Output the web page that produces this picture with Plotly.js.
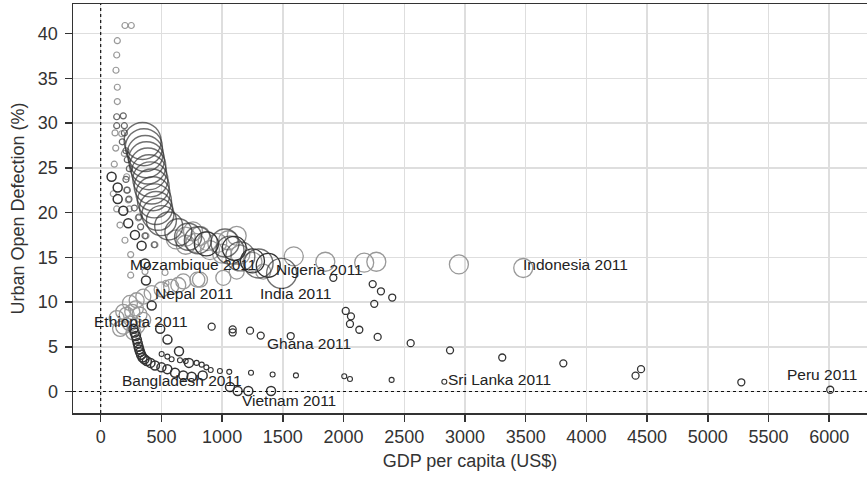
<!DOCTYPE html>
<html>
<head>
<meta charset="utf-8">
<script src="https://cdn.plot.ly/plotly-3.0.1.min.js"></script>
<style>html,body{margin:0;padding:0;background:#fff;}#chart{width:867px;height:478px;}</style>
</head>
<body>
<div id="chart"></div>
<script>
// ---- Data ----
const greySmallX = [200,252,137,132,126,137,137,118,173,124,112,195,104,132,159,200,214,247,365,530,447,373,310,538,214,228,236,247];
const greySmallY = [40.9,40.9,39.2,37.6,35.9,34.0,32.4,28.9,28.8,27.2,25.4,26.6,22.1,20.4,18.6,16.9,24.0,15.3,13.4,13.3,16.4,17.4,19.4,12.1,22.5,21.4,20.4,13.0];

const midSmallX = [132,186,132,195,195,178,208,219,236,208,219,233,277,315,329,365,441];
const midSmallY = [30.7,30.8,29.7,29.7,28.9,27.9,26.9,25.9,24.9,23.7,22.5,21.5,20.5,19.5,18.4,17.4,16.4];

const ethiopiaX = [132,160,186,214,241,260,290,320,350,300,270];
const ethiopiaY = [8.2,7.0,7.25,8.6,7.6,8.9,9.3,8.6,8.0,7.3,6.6];

const nepalX = [186,241,296,351,420,502,580,639,680,796,818,1010,1120,1339];
const nepalY = [8.9,9.9,10.2,10.6,11.0,11.4,11.7,11.9,12.3,12.5,12.5,12.7,13.4,13.4];

const indonesiaX = [620,700,760,820,880,960,1050,1120,700,780,900,1000,1150,1250,1590,1850,2170,2270,2950,3480];
const indonesiaY = [17.0,17.3,17.9,17.4,16.8,16.6,16.9,17.4,16.4,16.6,15.8,15.4,15.3,14.5,15.1,14.5,14.4,14.5,14.2,13.8];

const indiaX = [345,356,367,377,388,398,409,420,431,443,456,471,500,560,640,720,800,1024,1065,1150,1300,1490];
const indiaY = [28.0,27.3,26.6,25.9,25.2,24.5,23.7,22.9,22.1,21.3,20.5,19.8,19.1,18.5,17.8,17.3,16.9,16.6,15.8,15.1,14.3,13.2];
const indiaSize = [37,37,36,36,36,35,35,35,34,34,33,32,30,28,27,27,27,28,28,29,29,30];

const nigeriaX = [870,1100,1250,1380];
const nigeriaY = [16.5,16.0,14.6,14.1];

const vietnamX = [90,140,140,186,227,282,337,365,373,420,490,550,645,727,840,1065,1128,1216,1403];
const vietnamY = [24.0,22.8,21.5,20.2,18.8,17.5,16.3,14.3,12.4,9.6,7.0,5.8,4.5,3.2,1.8,0.5,0.05,0.05,0.05];

const bangladeshX = [270,280,290,298,305,312,318,325,333,345,360,380,410,447,500,549,612,680,749];
const bangladeshY = [7.0,6.6,6.2,5.8,5.4,5.0,4.7,4.4,4.1,3.8,3.6,3.4,3.2,2.9,2.7,2.5,2.1,1.8,1.65];

const ghanaX = [914,1087,1087,1230,1318,1565];
const ghanaY = [7.25,6.95,6.6,6.8,6.25,6.2];

const peruX = [1916,2240,2308,2401,2253,2018,2061,2053,2130,2281,2553,2877,3307,3810,4405,4450,5276,6008];
const peruY = [12.7,12.0,11.2,10.5,9.8,9.0,8.4,7.55,6.9,6.1,5.4,4.6,3.8,3.15,1.77,2.5,1.03,0.2];

const sriLankaX = [502,549,584,653,700,790,832,870,906,982,1059,1238,1416,1608,2006,2053,2396,2830];
const sriLankaY = [4.2,3.9,3.6,3.5,3.4,3.2,3.0,2.7,2.4,2.3,2.2,2.1,1.9,1.8,1.7,1.4,1.3,1.1];

const labelText = ["Mozambique 2011","Nigeria 2011","India 2011","Nepal 2011","Ethiopia 2011","Ghana 2011","Bangladesh 2011","Vietnam 2011","Sri Lanka 2011","Indonesia 2011","Peru 2011"];
const labelX = [760,1800,1603,767,336,1713,671,1552,3288,3914,5940];
const labelY = [14.15,13.6,11.0,11.0,7.8,5.4,1.2,-0.95,1.36,14.2,1.9];

const xTicks = [0,500,1000,1500,2000,2500,3000,3500,4000,4500,5000,5500,6000];
const yTicks = [0,5,10,15,20,25,30,35,40];

// ---- Build ----
const DARK = '#333333', GREY = '#999999', MID = '#666666';
function series(x, y, color, size, lw) {
  return {type:'scatter', mode:'markers', x:x, y:y, hoverinfo:'skip',
    marker:{symbol:'circle-open', color:color, size:size, line:{width:lw||1.3}}};
}
const traces = [
  series(greySmallX, greySmallY, GREY, 6, 1.2),
  series(midSmallX, midSmallY, MID, 6, 1.2),
  series(ethiopiaX, ethiopiaY, GREY, 15),
  series(nepalX, nepalY, GREY, 15),
  series(indonesiaX, indonesiaY, GREY, 19),
  series(indiaX, indiaY, DARK, indiaSize, 1.4),
  series(nigeriaX, nigeriaY, DARK, 24),
  series(vietnamX, vietnamY, DARK, 9, 1.5),
  series(bangladeshX, bangladeshY, DARK, 9, 1.5),
  series(ghanaX, ghanaY, DARK, 7),
  series(peruX, peruY, DARK, 7),
  series(sriLankaX, sriLankaY, DARK, 5, 1.1)
];

const FONT = 'Liberation Sans, Arial, sans-serif';
const annotations = labelText.map((t,i)=>({
  x: labelX[i], y: labelY[i], xref:'x', yref:'y', text:t, showarrow:false,
  xanchor:'center', yanchor:'middle', font:{family:FONT, size:15.5, color:'#222'}
}));

const layout = {
  width:867, height:478,
  margin:{l:73, r:0, t:4, b:65},
  paper_bgcolor:'#fff', plot_bgcolor:'#fff',
  showlegend:false,
  font:{family:FONT, color:'#333'},
  xaxis:{
    range:[-228, 6311], tickvals:xTicks, ticktext:xTicks.map(String),
    ticks:'outside', ticklen:7, tickwidth:1.5, tickcolor:'#333',
    showline:true, linecolor:'#333', linewidth:1.5, mirror:true,
    showgrid:true, gridcolor:'#dedede', gridwidth:1.5, zeroline:false,
    tickfont:{family:FONT, size:18, color:'#333'},
    title:{text:'GDP per capita (US$)', font:{family:FONT, size:18, color:'#333'}, standoff:8},
    automargin:false
  },
  yaxis:{
    range:[-2.4, 43.3], tickvals:yTicks, ticktext:yTicks.map(String),
    ticks:'outside', ticklen:7, tickwidth:1.5, tickcolor:'#333',
    showline:true, linecolor:'#333', linewidth:1.5, mirror:false,
    showgrid:true, gridcolor:'#dedede', gridwidth:1.5, zeroline:false,
    tickfont:{family:FONT, size:18, color:'#333'}, ticklabelstandoff:3,
    title:{text:'Urban Open Defection (%)', font:{family:FONT, size:18, color:'#333'}, standoff:8},
    automargin:false
  },
  shapes:[
    {type:'line', xref:'x', yref:'paper', x0:0, x1:0, y0:0, y1:1, layer:'above', line:{color:'#111', width:1.2, dash:'dot'}},
    {type:'line', xref:'paper', yref:'y', x0:0, x1:1, y0:0, y1:0, layer:'above', line:{color:'#111', width:1.2, dash:'dot'}}
  ],
  annotations:annotations
};

Plotly.newPlot('chart', traces, layout, {staticPlot:true, displayModeBar:false});
</script>
</body>
</html>
